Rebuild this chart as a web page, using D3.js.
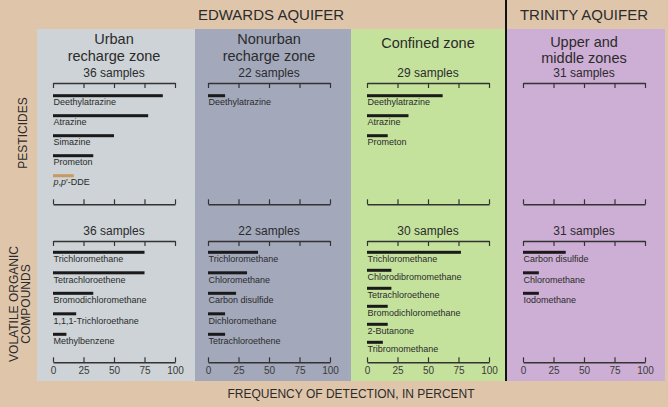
<!DOCTYPE html>
<html>
<head>
<meta charset="utf-8">
<script src="https://cdn.jsdelivr.net/npm/d3@7"></script>
<style>
  body { margin: 0; background: #dfc6ab; }
  svg { display: block; font-family: "Liberation Sans", Arial, sans-serif; }
</style>
</head>
<body>
<div id="chart-area"></div>
<script>
// chart values
var aquifers = ["EDWARDS AQUIFER", "TRINITY AQUIFER"];
var zoneTitles = [["Urban", "recharge zone"], ["Nonurban", "recharge zone"], ["Confined zone"], ["Upper and", "middle zones"]];
var pestSamples = [36, 22, 29, 31];
var vocSamples = [36, 22, 30, 31];
var pestNames = [
    ["Deethylatrazine", "Atrazine", "Simazine", "Prometon", "p,p'-DDE"],
    ["Deethylatrazine"],
    ["Deethylatrazine", "Atrazine", "Prometon"],
    []
];
var pestValues = [[90, 78, 50, 33, 17], [14], [62, 34, 17], []];
var vocNames = [
    ["Trichloromethane", "Tetrachloroethene", "Bromodichloromethane", "1,1,1-Trichloroethane", "Methylbenzene"],
    ["Trichloromethane", "Chloromethane", "Carbon disulfide", "Dichloromethane", "Tetrachloroethene"],
    ["Trichloromethane", "Chlorodibromomethane", "Tetrachloroethene", "Bromodichloromethane", "2-Butanone", "Tribromomethane"],
    ["Carbon disulfide", "Chloromethane", "Iodomethane"]
];
var vocValues = [[75, 75, 33, 19, 11], [41, 32, 23, 14, 14], [77, 20, 20, 17, 17, 13], [35, 13, 13]];
var tickValues = [0, 25, 50, 75, 100];

var width = 668, height = 407;
var panelColors = ["#cdd3d6", "#a3a8bb", "#c5e29d", "#cdaed5"];
var panelX = [37, 195, 351, 507];
var panelW = [158, 156, 154, 158];
var axisX = [53, 208, 367, 523];
var axisW = 122;
var textColor = "#2b2b2b";

var svg = d3.select("#chart-area")
    .append("svg")
        .attr("width", width)
        .attr("height", height);

svg.append("rect")
    .attr("width", width)
    .attr("height", height)
    .attr("fill", "#dfc6ab");

// aquifer headers
svg.append("text")
    .attr("x", 271).attr("y", 20)
    .attr("text-anchor", "middle")
    .attr("font-size", "15px")
    .attr("fill", textColor)
    .text(aquifers[0]);

svg.append("text")
    .attr("x", 584).attr("y", 20)
    .attr("text-anchor", "middle")
    .attr("font-size", "15px")
    .attr("fill", textColor)
    .text(aquifers[1]);

// left labels
svg.append("text")
    .attr("transform", "translate(27,133) rotate(-90)")
    .attr("text-anchor", "middle")
    .attr("font-size", "12px")
    .attr("fill", textColor)
    .text("PESTICIDES");

svg.append("text")
    .attr("transform", "translate(18,304) rotate(-90)")
    .attr("text-anchor", "middle")
    .attr("font-size", "12px")
    .attr("fill", textColor)
    .text("VOLATILE ORGANIC");

svg.append("text")
    .attr("transform", "translate(30,304) rotate(-90)")
    .attr("text-anchor", "middle")
    .attr("font-size", "12px")
    .attr("fill", textColor)
    .text("COMPOUNDS");

// bottom label
svg.append("text")
    .attr("x", 351).attr("y", 398)
    .attr("text-anchor", "middle")
    .attr("font-size", "12px")
    .attr("fill", textColor)
    .text("FREQUENCY OF DETECTION, IN PERCENT");

var titleY = [[44.4, 60.6], [44.4, 60.6], [48.3], [47.2, 63.4]];

zoneTitles.forEach(function(title, i) {
    var g = svg.append("g");

    g.append("rect")
        .attr("x", panelX[i])
        .attr("y", 29)
        .attr("width", panelW[i])
        .attr("height", 352)
        .attr("fill", panelColors[i]);

    var x = d3.scaleLinear()
        .domain([0, 100])
        .range([axisX[i], axisX[i] + axisW]);
    var cx = axisX[i] + axisW / 2;

    title.forEach(function(line, j) {
        g.append("text")
            .attr("x", cx)
            .attr("y", titleY[i][j])
            .attr("text-anchor", "middle")
            .attr("font-size", "14.5px")
            .attr("fill", textColor)
            .text(line);
    });

    // sample counts
    g.append("text")
        .attr("x", cx).attr("y", 76.7)
        .attr("text-anchor", "middle")
        .attr("font-size", "12px")
        .attr("fill", textColor)
        .text(pestSamples[i] + " samples");

    g.append("text")
        .attr("x", cx).attr("y", 235)
        .attr("text-anchor", "middle")
        .attr("font-size", "12px")
        .attr("fill", textColor)
        .text(vocSamples[i] + " samples");

    // axes: top ones have ticks down, bottom ones ticks up
    var topAxis = d3.axisBottom(x).tickValues(tickValues).tickSizeInner(5).tickSizeOuter(0).tickFormat("");
    var pestBottom = d3.axisBottom(x).tickValues(tickValues).tickSizeInner(-5).tickSizeOuter(0).tickFormat("");
    var vocBottom = d3.axisBottom(x).tickValues(tickValues).tickSizeInner(-5).tickSizeOuter(0).tickPadding(4.5);

    [[83, topAxis], [204.3, pestBottom], [241, topAxis], [362.3, vocBottom]].forEach(function(a) {
        var ax = g.append("g")
            .attr("transform", "translate(0," + a[0] + ")")
            .call(a[1]);
        ax.select(".domain").attr("stroke", "#333").attr("stroke-width", 1.6);
        ax.selectAll(".tick line").attr("stroke", "#333").attr("stroke-width", 1.2);
        ax.selectAll(".tick text")
            .attr("fill", "#3a3a3a")
            .attr("font-size", "10px")
            .attr("font-family", "Liberation Sans, Arial, sans-serif");
    });

    // pesticide bars
    var pestData = pestNames[i].map(function(n, k) { return { name: n, value: pestValues[i][k] }; });
    var yPest = function(k) { return 95.7 + k * 20; };
    drawBars(g, pestData, x, yPest, 9);

    // voc bars
    var vocData = vocNames[i].map(function(n, k) { return { name: n, value: vocValues[i][k] }; });
    var vocStep = vocData.length > 5 ? 18 : 20.5;
    var yVoc = function(k) { return 252.3 + k * vocStep; };
    drawBars(g, vocData, x, yVoc, 10);
});

function drawBars(g, data, x, y, labelOffset) {
    g.selectAll(null)
        .data(data)
        .enter()
        .append("rect")
            .attr("x", x(0))
            .attr("y", function(d, k) { return y(k) - 1.5; })
            .attr("width", function(d) { return x(d.value) - x(0); })
            .attr("height", 3)
            .attr("fill", function(d) { return d.name === "p,p'-DDE" ? "#c79a5f" : "#1a1a1a"; });

    var labels = g.selectAll(null)
        .data(data)
        .enter()
        .append("text")
            .attr("x", x(0) + 0.5)
            .attr("y", function(d, k) { return y(k) + labelOffset; })
            .attr("font-size", "9px")
            .attr("fill", textColor);

    labels.each(function(d) {
        var t = d3.select(this);
        if (d.name === "p,p'-DDE") {
            t.append("tspan").attr("font-style", "italic").text("p");
            t.append("tspan").text(",");
            t.append("tspan").attr("font-style", "italic").text("p");
            t.append("tspan").text("\u2032-DDE");
        } else {
            t.text(d.name);
        }
    });
}

// divider between aquifers
svg.append("line")
    .attr("x1", 506).attr("x2", 506)
    .attr("y1", 0).attr("y2", 381)
    .attr("stroke", "#111")
    .attr("stroke-width", 2);
</script>
</body>
</html>
